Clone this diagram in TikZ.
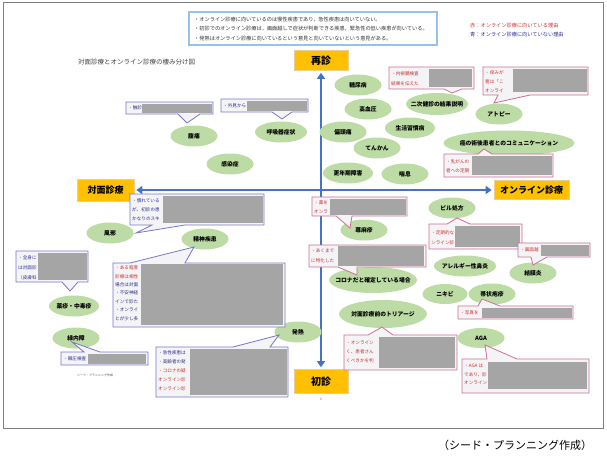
\documentclass[tikz,border=0pt]{standalone}
\usepackage{fontspec}
\setmainfont{Noto Sans CJK JP}
\usetikzlibrary{calc,shapes.geometric,arrows.meta}
\definecolor{illgreen}{RGB}{189,219,165}
\definecolor{axisblue}{RGB}{68,114,196}
\definecolor{boxorange}{RGB}{255,192,0}
\definecolor{notesblue}{RGB}{155,194,230}
\definecolor{callblue}{RGB}{120,118,200}
\definecolor{callpink}{RGB}{205,110,150}
\definecolor{callfill}{RGB}{244,244,246}
\definecolor{redact}{RGB}{165,165,165}
\definecolor{txtred}{RGB}{200,50,50}
\definecolor{txtblue}{RGB}{45,45,140}
\definecolor{framegray}{RGB}{128,128,128}
\def\callbot[#1](#2,#3)(#4,#5)(#6:#7)(#8){\draw[#1] (#2,#3) -- (#4,#3) -- (#4,#5) -- (#7,#5) -- (#8) -- (#6,#5) -- (#2,#5) -- cycle;}
\def\calltop[#1](#2,#3)(#4,#5)(#6:#7)(#8){\draw[#1] (#2,#3) -- (#6,#3) -- (#8) -- (#7,#3) -- (#4,#3) -- (#4,#5) -- (#2,#5) -- cycle;}
\newcommand\lbl[1]{\makebox[0pt]{#1}}
\tikzset{
	ill/.style={ellipse, fill=illgreen, inner sep=0pt, minimum width=47pt, minimum height=21pt, font=\bfseries\fontsize{5.8}{6}\selectfont},
	sidebox/.style={fill=boxorange, draw={rgb,255:red,235;green,205;blue,150}, line width=0.6pt, inner sep=0pt, font=\bfseries\fontsize{9}{10}\selectfont},
	axis/.style={draw=axisblue, line width=2.4pt, {Triangle[width=8pt,length=6pt]}-{Triangle[width=8pt,length=6pt]}, shorten <=2pt, shorten >=2pt},
	bluecall/.style={draw=callblue, fill=callfill, line width=0.8pt},
	pinkcall/.style={draw=callpink, fill=callfill, line width=0.8pt},
	calltext/.style={anchor=north west, inner sep=0pt, align=left, font=\fontsize{4.6}{9}\selectfont},
	redbox/.style={fill=redact}
}
\begin{document}
\begin{tikzpicture}[x=1pt,y=-1pt]
			%%%%% START %%%%%
			\useasboundingbox (0,0) rectangle (607,456);
			\draw[framegray, line width=1pt] (3,2) rectangle (603,428);
			
			% notes on top
			\draw[notesblue, line width=2.2pt, fill=white] (189,12) rectangle (437,45);
			\node[anchor=north west, inner sep=0pt, align=left, font=\fontsize{5.2}{9.5}\selectfont, text=black!80] (notes) at (194,16.6) {・オンライン診療に向いているのは慢性疾患であり，急性疾患は向いていない。\\・初診でのオンライン診療は，画面越しで症状が判断できる疾患，緊急性の低い疾患が向いている。\\・発熱はオンライン診療に向いているという意見と向いていないという意見がある。};
			\node[anchor=west, inner sep=0pt, font=\fontsize{5.2}{6}\selectfont, text=txtred] (legred) at (470,26) {赤：オンライン診療に向いている理由};
			\node[anchor=west, inner sep=0pt, font=\fontsize{5.2}{6}\selectfont, text=txtblue] (legblue) at (470,35) {青：オンライン診療に向いていない理由};
			\node[anchor=west, inner sep=0pt, font=\fontsize{6.5}{7}\selectfont, text=black!75] (title) at (78,62) {対面診療とオンライン診療の棲み分け図};
			
			% axes
			\node[sidebox, minimum width=54pt, minimum height=20pt, font=\bfseries\fontsize{10}{11}\selectfont] (saishin) at (321,60.5) {再診};
			\node[sidebox, minimum width=54pt, minimum height=24pt, font=\bfseries\fontsize{10}{11}\selectfont] (shoshin) at (321,381.5) {初診};
			\node[sidebox, minimum width=57pt, minimum height=22pt] (taimen) at (105.5,190) {対面診療};
			\node[sidebox, minimum width=75pt, minimum height=19pt] (online) at (531.5,190) {オンライン診療};
			\draw[axis] (shoshin) -- (saishin);
			\draw[axis] (taimen) -- (online);
			
			% ellipses
			\node[ill] (tonyo) at (358,85) {糖尿病};
			\node[ill] (koketsu) at (368,109) {高血圧};
			\node[ill, minimum width=62pt, minimum height=22pt] (niji) at (437,104) {\lbl{二次健診の結果説明}};
			\node[ill] (henzu) at (343,132) {偏頭痛};
			\node[ill, minimum width=50pt] (seikatsu) at (410,128) {生活習慣病};
			\node[ill] (tenkan) at (377,148) {てんかん};
			\node[ill, minimum width=50pt] (konen) at (348,173) {更年期障害};
			\node[ill] (zensoku) at (405,174) {喘息};
			\node[ill] (atopy) at (499,114) {アトピー};
			\node[ill, minimum width=131pt, minimum height=25pt] (gan) at (509,143) {\lbl{癌の術後患者とのコミュニケーション}};
			\node[ill] (fukutsu) at (194,136) {腹痛};
			\node[ill, minimum width=52pt] (kokyu) at (281,132) {呼吸器症状};
			\node[ill] (kansen) at (230,164) {感染症};
			\node[ill] (kaze) at (110,233) {風邪};
			\node[ill] (seishin) at (205,239) {精神疾患};
			\node[ill, minimum width=50pt] (yakushin) at (74,306) {\lbl{薬疹・中毒疹}};
			\node[ill] (ryokunai) at (76,338) {緑内障};
			\node[ill] (hatsunetsu) at (298,332) {発熱};
			\node[ill] (jinma) at (364,230) {蕁麻疹};
			\node[ill] (piru) at (452,208) {ピル処方};
			\node[ill, minimum width=62pt] (allergy) at (465,266) {\lbl{アレルギー性鼻炎}};
			\node[ill] (ketsumaku) at (533,273) {結膜炎};
			\node[ill, minimum width=88pt, minimum height=26pt] (corona) at (373,280) {\lbl{コロナだと確定している場合}};
			\node[ill, minimum width=45pt, minimum height=20pt] (nikibi) at (445,294) {ニキビ};
			\node[ill] (taijo) at (492,294) {帯状疱疹};
			\node[ill, minimum width=88pt, minimum height=28pt] (triage) at (383,314) {\lbl{対面診療前のトリアージ}};
			\node[ill, minimum height=20pt] (aga) at (481,338) {AGA};
			
			% callouts, left side
			\callbot[bluecall](126,102)(213,114)(178:200)({$(fukutsu)+(-7,-13)$});
			\fill[redbox] (142,103.5) rectangle (212,112.5);
			\node[calltext, text=txtblue] (t-fukutsu) at (128,105.7) {・触診};
			
			\callbot[bluecall](221,99)(308,112)(272:292)({$(kokyu)+(1,-13)$});
			\fill[redbox] (247,100.5) rectangle (307,110.5);
			\node[calltext, text=txtblue] (t-kokyu) at (223,103.2) {・外見から};
			
			\callbot[bluecall](130,194)(264,225)(152:185)({$(kaze)+(26,0)$});
			\fill[redbox] (163,196) rectangle (263,223);
			\node[calltext, text=txtblue, font=\fontsize{4.6}{8.7}\selectfont] (t-kaze) at (132,198.7) {・慣れている\\が、初診の患\\かなりのスキ};
			
			\calltop[bluecall](113,263)(285,327)(130:185)({$(seishin)+(-11,8)$});
			\fill[redbox] (141,264) rectangle (283,325);
			\node[calltext, text=txtblue, font=\fontsize{4.6}{8.4}\selectfont] (t-seishin) at (115,265.7) {\textcolor{txtred}{・ある程度}\\\textcolor{txtred}{診療は相性}\\場合は対面\\・不安神経\\インで診た\\・オンライ\\とが少し多};
			
			\callbot[bluecall](16,251)(88,282)(62:78)({$(yakushin)+(-4,-15)$});
			\fill[redbox] (38,253) rectangle (87,280);
			\node[calltext, text=txtblue, font=\fontsize{4.6}{10}\selectfont] (t-yakushin) at (18,255.7) {・全身に\\は対面診\\（皮膚科};
			
			\calltop[bluecall](61,352)(148,365)(84:100)({$(ryokunai)+(-4,4)$});
			\fill[redbox] (88,353.5) rectangle (146,363.5);
			\node[calltext, text=txtblue] (t-ryokunai) at (63,356.2) {・眼圧検査};
			
			\calltop[bluecall](156,347)(288,397)(233:270)({$(hatsunetsu)+(-19,3)$});
			\fill[redbox] (190,349) rectangle (287,395);
			\node[calltext, text=txtblue] (t-hatsunetsu) at (158,350.7) {・急性疾患は\\・高齢者の発\\\textcolor{txtred}{・コロナの疑}\\\textcolor{txtred}{オンライン診}\\\textcolor{txtred}{オンライン診}};
			
			% callouts, right side
			\callbot[pinkcall](389,67)(474,89)(444:462)({$(niji)+(15,-11)$});
			\fill[redbox] (429,69) rectangle (472,87);
			\node[calltext, text=txtred, font=\fontsize{4.6}{10}\selectfont] (t-niji) at (391,71.5) {・内視鏡検査\\結果を伝えた};
			
			\callbot[pinkcall](483,67)(588,95)(498:530)({$(atopy)+(-5,-11)$});
			\fill[redbox] (513,69) rectangle (587,92);
			\node[calltext, text=txtred] (t-atopy) at (485,70.7) {・痒みが\\者は「こ\\オンライ};
			
			\calltop[pinkcall](444,154)(553,177)(478:492)({$(gan)+(-25,6)$});
			\fill[redbox] (472,156) rectangle (552,175);
			\node[calltext, text=txtred] (t-gan) at (446,159.7) {・乳がんの\\者への定期};
			
			\callbot[pinkcall](312,197)(407,216)(336:352)({$(jinma)+(-14,-2)$});
			\fill[redbox] (330,198.5) rectangle (406,215);
			\node[calltext, text=txtred] (t-jinma) at (314,200.7) {・薬を\\オンラ};
			
			\calltop[pinkcall](429,224)(522,249)(447:470)({$(piru)+(5,10)$});
			\fill[redbox] (455,226) rectangle (520,247);
			\node[calltext, text=txtred, font=\fontsize{4.6}{10}\selectfont] (t-piru) at (431,230.7) {・定期的な\\ンライン診};
			
			\callbot[pinkcall](518,243)(590,257)(531:547)({$(ketsumaku)+(0,-8)$});
			\fill[redbox] (541,244.5) rectangle (589,255.5);
			\node[calltext, text=txtred] (t-ketsumaku) at (520,247.7) {・画面越};
			
			\callbot[pinkcall](309,245)(426,267)(338:357)({$(corona)+(-16,-5)$});
			\fill[redbox] (338,246) rectangle (424,266);
			\node[calltext, text=txtred, font=\fontsize{4.6}{10}\selectfont] (t-corona) at (311,248.7) {・あくまで\\に特化した};
			
			\calltop[pinkcall](458,306)(573,319)(478:500)({$(taijo)+(-10,5)$});
			\fill[redbox] (482,307.5) rectangle (572,317.5);
			\node[calltext, text=txtred] (t-taijo) at (460,310.2) {・写真を};
			
			\calltop[pinkcall](344,335)(457,370)(368:393)({$(triage)+(-1,13)$});
			\fill[redbox] (379,337) rectangle (455,368);
			\node[calltext, text=txtred] (t-triage) at (346,340.7) {・オンライン\\く、患者さん\\くべきかを判};
			
			\calltop[pinkcall](462,359)(589,393)(487:517)({$(aga)+(4,7)$});
			\fill[redbox] (488,362) rectangle (587,389);
			\node[calltext, text=txtred, font=\fontsize{4.6}{8.7}\selectfont] (t-aga) at (464,363.7) {・AGA は\\であり，診\\オンライン};
			
			% small print and caption
			\node[inner sep=0pt, font=\fontsize{3}{3}\selectfont, text=black!70] (seedsmall) at (95,375) {シード・プランニング作成};
			\node[inner sep=0pt, font=\fontsize{3}{3}\selectfont, text=black!70] (pageno) at (321,399) {5};
			\node[inner sep=0pt, font=\fontsize{11}{12}\selectfont] (caption) at (515,445) {（シード・プランニング作成）};
			%%%%% END %%%%%
		\end{tikzpicture}
\end{document}
